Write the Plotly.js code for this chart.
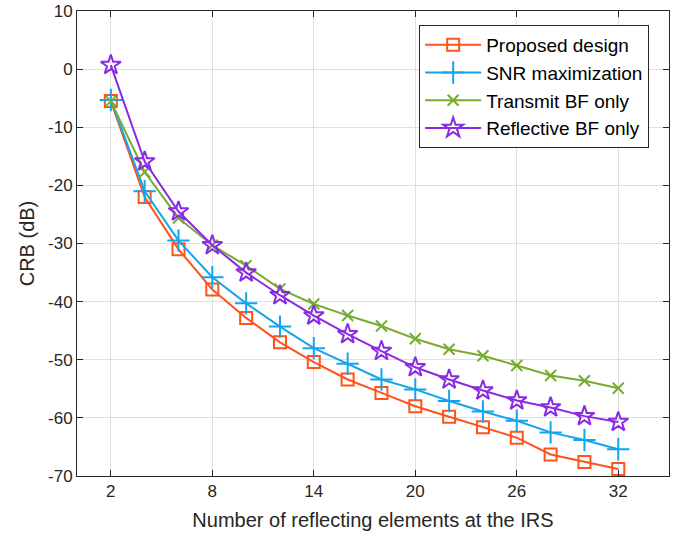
<!DOCTYPE html>
<html>
<head>
<meta charset="utf-8">
<script src="https://cdn.plot.ly/plotly-3.0.1.min.js"></script>
<style>html,body{margin:0;padding:0;background:#fff;}#chart{width:679px;height:537px;}</style>
</head>
<body>
<div id="chart"></div>
<script>
const elements = [2,4,6,8,10,12,14,16,18,20,22,24,26,28,30,32];
const proposed = [-5.5,-22.0,-31.0,-37.9,-42.8,-47.0,-50.4,-53.4,-55.7,-58.0,-59.8,-61.6,-63.4,-66.3,-67.6,-68.8];
const snrMax = [-5.3,-21.0,-29.5,-35.8,-40.3,-44.3,-48.0,-50.7,-53.4,-55.1,-57.1,-58.9,-60.5,-62.5,-63.8,-65.4];
const transmitOnly = [-5.5,-17.7,-25.6,-30.3,-33.8,-37.8,-40.4,-42.4,-44.2,-46.4,-48.2,-49.3,-51.0,-52.7,-53.6,-54.9];
const reflectiveOnly = [0.7,-15.9,-24.5,-30.3,-35.0,-38.9,-42.4,-45.6,-48.5,-51.3,-53.4,-55.3,-57.0,-58.2,-59.7,-60.7];
const seriesNames = ['Proposed design','SNR maximization','Transmit BF only','Reflective BF only'];
const xTicks = [2,8,14,20,26,32];
const yTicks = [-70,-60,-50,-40,-30,-20,-10,0,10];

const colors = ['#FF5319','#12A5EE','#77AC30','#8A2BE2'];
const symbols = ['square-open','cross-thin-open','x-thin-open','star-open'];
const sizes = [12,16,11,15];
const ys = [proposed, snrMax, transmitOnly, reflectiveOnly];

const traces = ys.map((y,i)=>({
  x: elements, y: y, name: seriesNames[i], type:'scatter', mode:'lines+markers',
  line:{color:colors[i], width:2},
  marker:{symbol:symbols[i], size:sizes[i], color:colors[i], line:{color:colors[i], width:2}}
}));

const axisCommon = {
  showline:true, mirror:'ticks', linecolor:'#262626', linewidth:1,
  ticks:'inside', ticklen:6, tickcolor:'#262626', tickwidth:1,
  showgrid:true, gridcolor:'#DFDFDF', gridwidth:1, zeroline:false,
  ticklabeloverflow:'allow',
  tickfont:{family:'Liberation Sans, Arial, sans-serif', size:17, color:'#262626'}
};

const layout = {
  width:679, height:537,
  margin:{l:77, r:10, t:11, b:61},
  paper_bgcolor:'#fff', plot_bgcolor:'#fff',
  font:{family:'Liberation Sans, Arial, sans-serif', color:'#262626'},
  xaxis: Object.assign({}, axisCommon, {
    range:[0,35], tickvals:xTicks, ticktext:xTicks.map(String),
    title:{text:'Number of reflecting elements at the IRS', font:{size:20, color:'#262626'}, standoff:12}
  }),
  yaxis: Object.assign({}, axisCommon, {
    range:[-70,10.001], tickvals:yTicks, ticktext:yTicks.map(String),
    title:{text:'CRB (dB)', font:{size:20, color:'#262626'}, standoff:8}
  }),
  showlegend:true,
  legend:{
    x:0.578, y:0.97, xanchor:'left', yanchor:'top',
    bgcolor:'#fff', bordercolor:'#262626', borderwidth:1,
    font:{size:19, color:'#000'}, itemwidth:56, tracegroupgap:0
  }
};

Plotly.newPlot('chart', traces, layout, {staticPlot:true, displayModeBar:false});
</script>
</body>
</html>
